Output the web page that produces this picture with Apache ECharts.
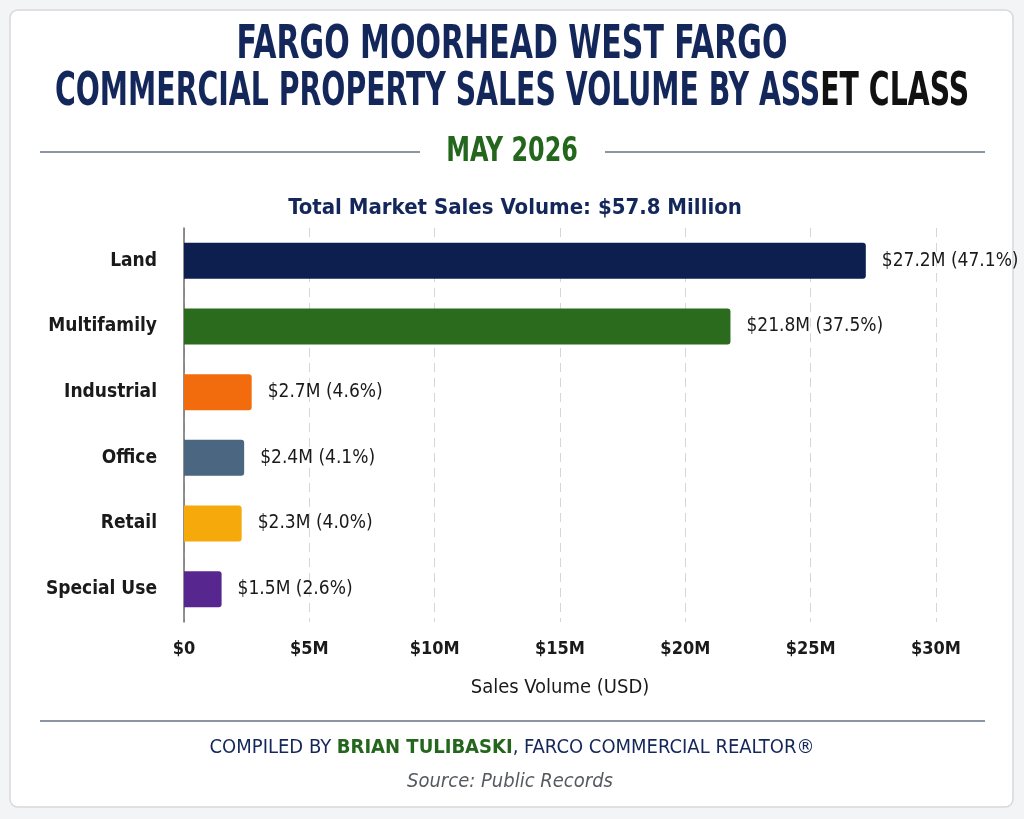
<!DOCTYPE html>
<html>
<head>
<meta charset="utf-8">
<script src="https://cdn.jsdelivr.net/npm/echarts@6/dist/echarts.min.js"></script>
<style>
  html, body { margin: 0; padding: 0; background: #f3f4f5; }
  #main { width: 1024px; height: 819px; }
</style>
</head>
<body>
<div id="main"></div>
<script>
// asset classes, sales volume ($M) and share of total (%)
var categories = ['Land', 'Multifamily', 'Industrial', 'Office', 'Retail', 'Special Use'];
var volumes = [27.2, 21.8, 2.7, 2.4, 2.3, 1.5];
var shares = [47.1, 37.5, 4.6, 4.1, 4.0, 2.6];
var barColors = ['#0d1f4f', '#2b6b1e', '#f26b0c', '#4b6681', '#f6a90b', '#57278f'];
var xTicks = [0, 5, 10, 15, 20, 25, 30];

var NAVY = '#14275a';
var GREEN = '#23661c';
var FONT = '"Liberation Sans Narrow", "DejaVu Sans Condensed", sans-serif';

window.onload = function () {
  var myChart = echarts.init(document.getElementById('main'));

  var barData = volumes.map(function (v, i) {
    return { value: v, itemStyle: { color: barColors[i] } };
  });

  var option = {
    backgroundColor: 'transparent',
    textStyle: { fontFamily: FONT },
    graphic: [
      // card
      { type: 'rect', z: -10, shape: { x: 10, y: 10, width: 1003, height: 797, r: 8 },
        style: { fill: '#ffffff', stroke: '#d6d8db', lineWidth: 1.5 } },
      // title (condensed with scaleX)
      { type: 'text', x: 512, y: 46, scaleX: 0.725,
        style: { text: 'FARGO MOORHEAD WEST FARGO', fill: NAVY, font: 'bold 46px ' + FONT,
                 textAlign: 'center', textVerticalAlign: 'middle' } },
      { type: 'text', x: 512, y: 93, scaleX: 0.685,
        style: { text: '{a|COMMERCIAL PROPERTY SALES VOLUME BY ASS}{b|ET CLASS}',
                 textAlign: 'center', textVerticalAlign: 'middle',
                 rich: {
                   a: { fill: NAVY, font: 'bold 46px ' + FONT },
                   b: { fill: '#111111', font: 'bold 46px ' + FONT }
                 } } },
      // month with side rules
      { type: 'line', shape: { x1: 40, y1: 152, x2: 420, y2: 152 }, style: { stroke: '#8c96a1', lineWidth: 2 } },
      { type: 'line', shape: { x1: 605, y1: 152, x2: 985, y2: 152 }, style: { stroke: '#8c96a1', lineWidth: 2 } },
      { type: 'text', x: 512, y: 152, scaleX: 0.78,
        style: { text: 'MAY 2026', fill: GREEN, font: 'bold 34px ' + FONT,
                 textAlign: 'center', textVerticalAlign: 'middle' } },
      { type: 'text', x: 515, y: 208,
        style: { text: 'Total Market Sales Volume: $57.8 Million', fill: NAVY, font: 'bold 22px ' + FONT,
                 textAlign: 'center', textVerticalAlign: 'middle' } },
      // footer
      { type: 'line', shape: { x1: 40, y1: 721, x2: 985, y2: 721 }, style: { stroke: '#8c96a1', lineWidth: 2 } },
      { type: 'text', x: 512, y: 748,
        style: { text: '{a|COMPILED BY }{b|BRIAN TULIBASKI}{a|, FARCO COMMERCIAL REALTOR®}',
                 textAlign: 'center', textVerticalAlign: 'middle',
                 rich: {
                   a: { fill: NAVY, font: '20px ' + FONT },
                   b: { fill: GREEN, font: 'bold 20px ' + FONT }
                 } } },
      { type: 'text', x: 510, y: 782,
        style: { text: 'Source: Public Records', fill: '#555a60', font: 'italic 20px ' + FONT,
                 textAlign: 'center', textVerticalAlign: 'middle' } }
    ],
    grid: { left: 184, right: 88, top: 228, bottom: 197, containLabel: false },
    xAxis: {
      type: 'value',
      min: xTicks[0],
      max: xTicks[xTicks.length - 1],
      interval: xTicks[1] - xTicks[0],
      name: 'Sales Volume (USD)',
      nameLocation: 'middle',
      nameGap: 56,
      nameTextStyle: { color: '#1a1a1a', fontSize: 20, fontFamily: FONT },
      axisLine: { show: false },
      axisTick: { show: false },
      axisLabel: {
        margin: 18,
        color: '#1a1a1a',
        fontSize: 18,
        fontWeight: 'bold',
        fontFamily: FONT,
        formatter: function (v) { return v === 0 ? '$0' : '$' + v + 'M'; }
      },
      splitLine: {
        show: true,
        lineStyle: { color: '#d6d6d6', type: [9, 6], width: 1 }
      }
    },
    yAxis: {
      type: 'category',
      inverse: true,
      data: categories,
      axisLine: { show: true, lineStyle: { color: '#6b6b6b', width: 1.5 } },
      axisTick: { show: false },
      axisLabel: {
        margin: 27,
        color: '#1a1a1a',
        fontSize: 19,
        fontWeight: 'bold',
        fontFamily: FONT
      }
    },
    series: [{
      type: 'bar',
      data: barData,
      barWidth: 36,
      itemStyle: { borderRadius: [0, 3, 3, 0] },
      label: {
        show: true,
        position: 'right',
        distance: 16,
        color: '#1a1a1a',
        fontSize: 19,
        fontFamily: FONT,
        formatter: function (p) {
          return '$' + volumes[p.dataIndex].toFixed(1) + 'M (' + shares[p.dataIndex].toFixed(1) + '%)';
        }
      }
    }]
  };

  myChart.setOption(option);
};
</script>
</body>
</html>
